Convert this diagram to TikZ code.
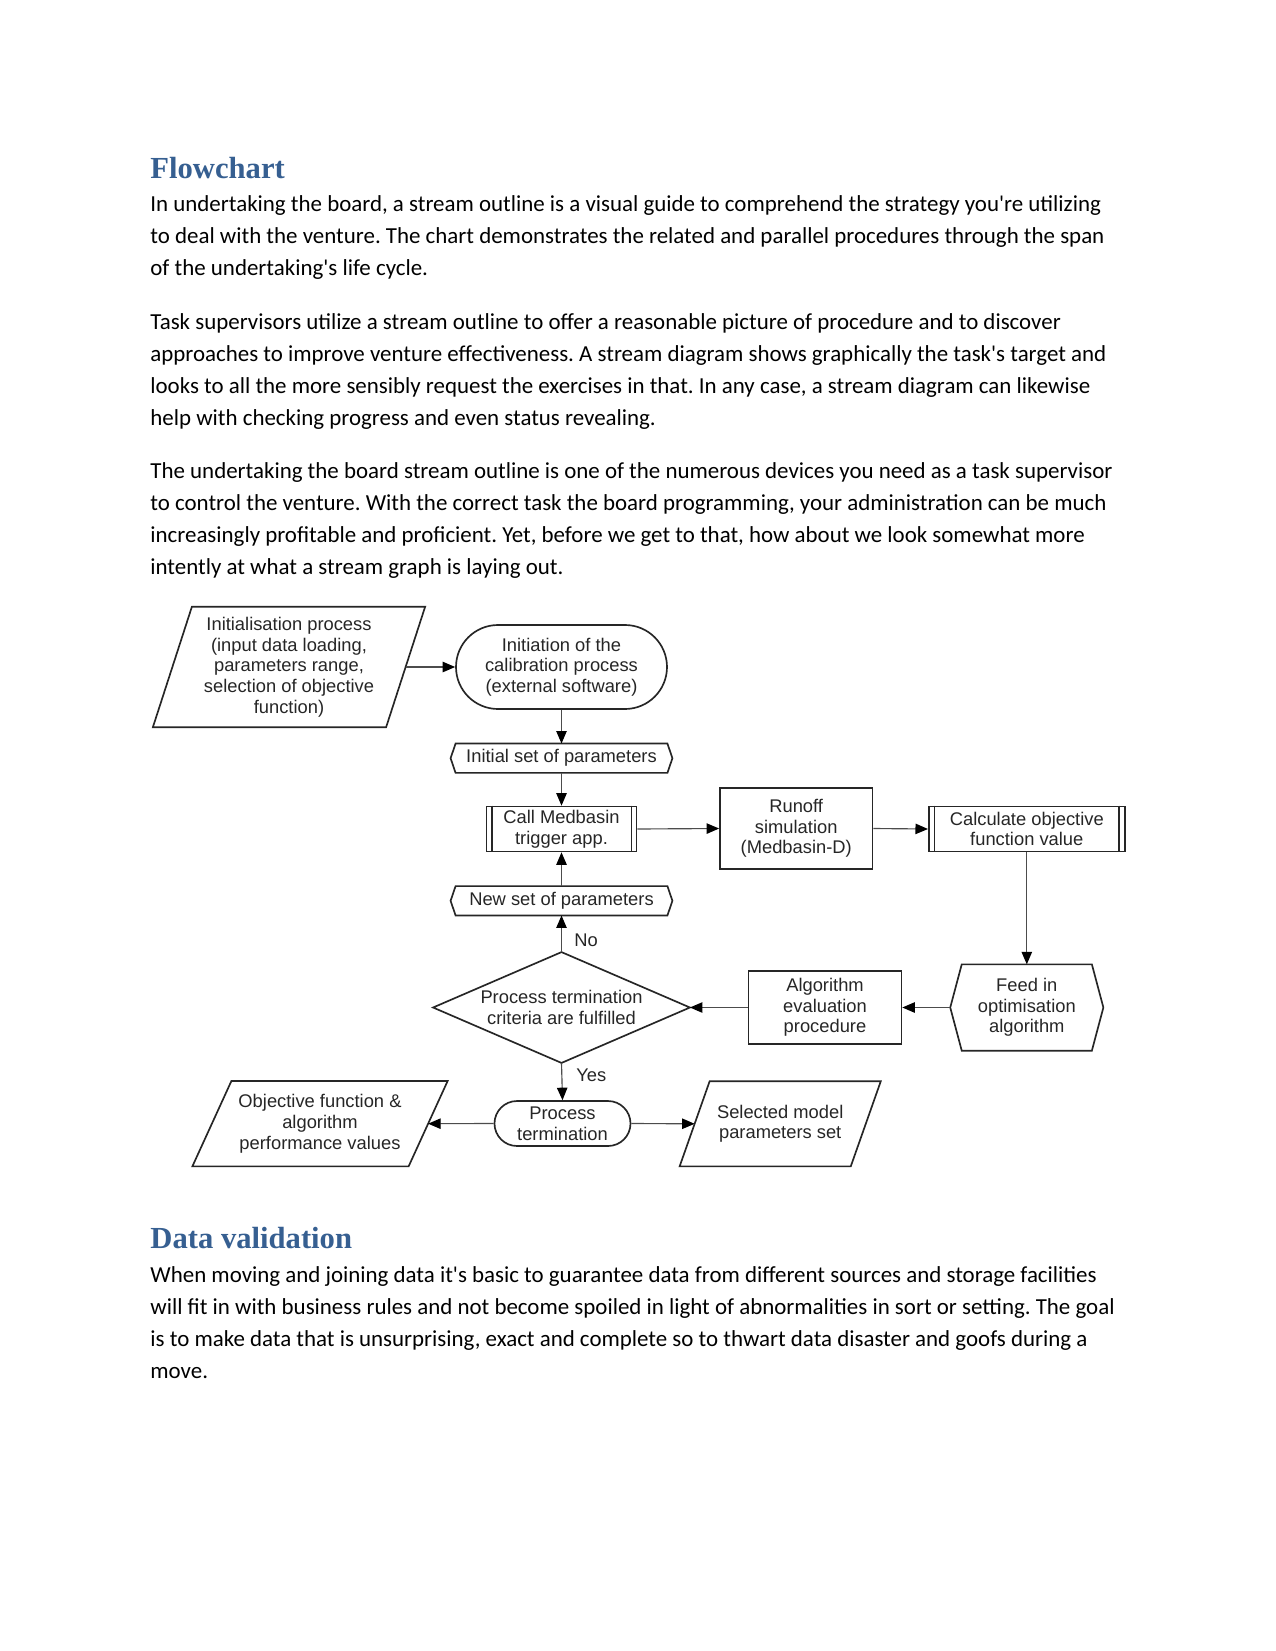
\documentclass[tikz,border=0pt]{standalone}
\usepackage{fontspec}
\usetikzlibrary{arrows.meta,calc}
\newfontfamily\bodyfont{Carlito}[Ligatures=TeXOff]
\newfontfamily\headfont{Liberation Serif}[Ligatures=TeXOff]
\newfontfamily\dfont{Liberation Sans}
\definecolor{headblue}{RGB}{54,95,145}
\def\pxu{*0.48pt}
\frenchspacing
\begin{document}
\begin{tikzpicture}[x=0.48pt,y=-0.48pt,
  bodyline/.style={anchor=base west,inner sep=0,font=\bodyfont\frenchspacing\fontsize{11pt}{13.4pt}\selectfont},
  headline/.style={anchor=base west,inner sep=0,text=headblue,font=\headfont\bfseries\fontsize{14.7pt}{17pt}\selectfont},
  fc/.style={inner sep=0,align=center,text=black!85,font=\dfont\fontsize{8.8pt}{9.9pt}\selectfont},
  outline/.style={draw=black!85,line width=0.8pt,line join=miter},
  conn/.style={draw=black!70,line width=0.55pt,-{Triangle[length=6pt,width=5pt,fill=black,color=black]}},
  lbl/.style={anchor=west,inner sep=0,text=black!85,font=\dfont\fontsize{8.8pt}{9.9pt}\selectfont}
]
\fill[white] (0,0) rectangle (1275,1651);
\useasboundingbox (0,0) rectangle (1275,1651);

% ---------- text ----------
\node[headline] (h1) at (150,178.5) {Flowchart};
\node[bodyline] (p1a) at (150,211.7) {In undertaking the board, a stream outline is a visual guide to comprehend the strategy you're utilizing};
\node[bodyline] (p1b) at (150,243.7) {to deal with the venture. The chart demonstrates the related and parallel procedures through the span};
\node[bodyline] (p1c) at (150,275.7) {of the undertaking's life cycle.};
\node[bodyline] (p2a) at (150,329.3) {Task supervisors utilize a stream outline to offer a reasonable picture of procedure and to discover};
\node[bodyline] (p2b) at (150,361.3) {approaches to improve venture effectiveness. A stream diagram shows graphically the task's target and};
\node[bodyline] (p2c) at (150,393.3) {looks to all the more sensibly request the exercises in that. In any case, a stream diagram can likewise};
\node[bodyline] (p2d) at (150,425.3) {help with checking progress and even status revealing.};
\node[bodyline] (p3a) at (150,478.3) {The undertaking the board stream outline is one of the numerous devices you need as a task supervisor};
\node[bodyline] (p3b) at (150,510.3) {to control the venture. With the correct task the board programming, your administration can be much};
\node[bodyline] (p3c) at (150,542.3) {increasingly profitable and proficient. Yet, before we get to that, how about we look somewhat more};
\node[bodyline] (p3d) at (150,574.3) {intently at what a stream graph is laying out.};

\node[headline] (h2) at (150,1248.2) {Data validation};
\node[bodyline] (p4a) at (150,1282.7) {When moving and joining data it's basic to guarantee data from different sources and storage facilities};
\node[bodyline] (p4b) at (150,1314.7) {will fit in with business rules and not become spoiled in light of abnormalities in sort or setting. The goal};
\node[bodyline] (p4c) at (150,1346.7) {is to make data that is unsurprising, exact and complete so to thwart data disaster and goofs during a};
\node[bodyline] (p4d) at (150,1378.7) {move.};

% ---------- flowchart nodes ----------
\node[fc,minimum width=232.4\pxu,minimum height=119.6\pxu] (init) at (289,667)
  {Initialisation process\\(input data loading,\\parameters range,\\selection of objective\\function)};
\draw[outline] ($(init.north west)+(19.5,0)$) -- ($(init.north east)+(19.5,0)$)
  -- ($(init.south east)+(-19.5,0)$) -- ($(init.south west)+(-19.5,0)$) -- cycle;

\node[fc,outline,rounded corners=20.16pt,minimum width=211\pxu,minimum height=84\pxu] (oval) at (561.5,667)
  {Initiation of the\\calibration process\\(external software)};

\node[fc,minimum width=221\pxu,minimum height=28.5\pxu] (iset) at (561.5,758.2) {Initial set of parameters};
\draw[outline] ($(iset.north west)+(5,0)$) -- ($(iset.north east)+(-5,0)$) -- (iset.east)
  -- ($(iset.south east)+(-5,0)$) -- ($(iset.south west)+(5,0)$) -- (iset.west) -- cycle;

\node[fc,outline,minimum width=150\pxu,minimum height=45\pxu] (call) at (561.5,829) {Call Medbasin\\trigger app.};
\draw[outline] ($(call.north west)+(6,0)$) -- ($(call.south west)+(6,0)$)
  ($(call.north east)+(-6,0)$) -- ($(call.south east)+(-6,0)$);

\node[fc,outline,minimum width=152.5\pxu,minimum height=81\pxu] (run) at (796.2,828.5) {Runoff\\simulation\\(Medbasin-D)};

\node[fc,outline,minimum width=196\pxu,minimum height=45\pxu] (calc) at (1026.8,829) {Calculate objective\\function value};
\draw[outline] ($(calc.north west)+(6.5,0)$) -- ($(calc.south west)+(6.5,0)$)
  ($(calc.north east)+(-6.5,0)$) -- ($(calc.south east)+(-6.5,0)$);

\node[fc,minimum width=152.3\pxu,minimum height=85.5\pxu] (feed) at (1026.8,1007.5) {Feed in\\optimisation\\algorithm};
\draw[outline] ($(feed.north west)+(11.5,0)$) -- ($(feed.north east)+(-11.5,0)$) -- (feed.east)
  -- ($(feed.south east)+(-11.5,0)$) -- ($(feed.south west)+(11.5,0)$) -- (feed.west) -- cycle;

\node[fc,outline,minimum width=153\pxu,minimum height=73.4\pxu] (alg) at (825,1007.5) {Algorithm\\evaluation\\procedure};

\node[fc,minimum width=256\pxu,minimum height=110\pxu] (dia) at (561.5,1007.5) {Process termination\\criteria are fulfilled};
\draw[outline] (dia.north) -- (dia.east) -- (dia.south) -- (dia.west) -- cycle;

\node[fc,minimum width=221\pxu,minimum height=28.5\pxu] (nset) at (561.5,900.8) {New set of parameters};
\draw[outline] ($(nset.north west)+(5,0)$) -- ($(nset.north east)+(-5,0)$) -- (nset.east)
  -- ($(nset.south east)+(-5,0)$) -- ($(nset.south west)+(5,0)$) -- (nset.west) -- cycle;

\node[fc,outline,rounded corners=10.8pt,minimum width=136\pxu,minimum height=45\pxu] (pterm) at (562.5,1123.5) {Process\\termination};

\node[fc,minimum width=215.4\pxu,minimum height=84.5\pxu] (obj) at (320,1123.7) {Objective function \&\\algorithm\\performance values};
\draw[outline] ($(obj.north west)+(19.5,0)$) -- ($(obj.north east)+(19.5,0)$)
  -- ($(obj.south east)+(-19.5,0)$) -- ($(obj.south west)+(-19.5,0)$) -- cycle;

\node[fc,minimum width=170.3\pxu,minimum height=84.3\pxu] (sel) at (780.2,1123.8) {Selected model\\parameters set};
\draw[outline] ($(sel.north west)+(15,0)$) -- ($(sel.north east)+(15,0)$)
  -- ($(sel.south east)+(-15,0)$) -- ($(sel.south west)+(-15,0)$) -- cycle;

\node[lbl] (no) at (574,940.5) {No};
\node[lbl] (yes) at (576,1075.5) {Yes};

% ---------- connectors ----------
\draw[conn] (init.east) -- (oval.west);
\draw[conn] (oval.south) -- (iset.north);
\draw[conn] (iset.south) -- (call.north);
\draw[conn] (nset.north) -- (call.south);
\draw[conn] (dia.north) -- (nset.south);
\draw[conn] (call.east) -- (run.west);
\draw[conn] (run.east) -- (calc.west);
\draw[conn] (calc.south) -- (feed.north);
\draw[conn] (feed.west) -- (alg.east);
\draw[conn] (alg.west) -- (dia.east);
\draw[conn] (dia.south) -- (pterm.north);
\draw[conn] (pterm.west) -- (obj.east);
\draw[conn] (pterm.east) -- (sel.west);
\end{tikzpicture}
\end{document}
